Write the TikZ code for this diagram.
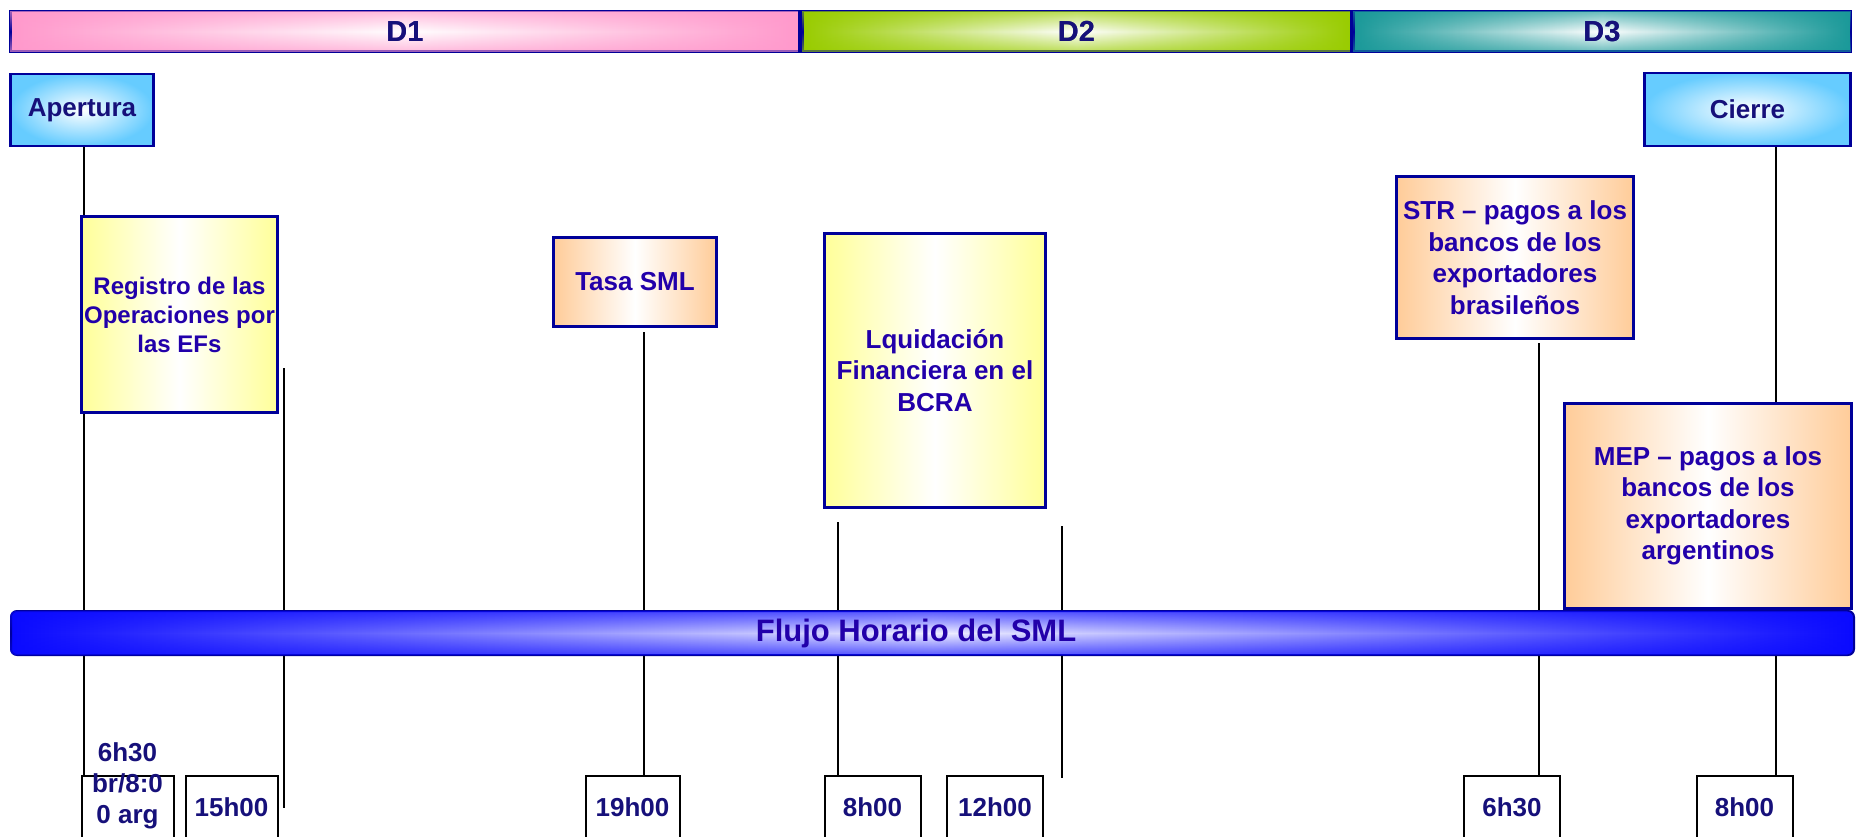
\documentclass[tikz,border=0pt]{standalone}
\usepackage{fontspec}
\setmainfont{Liberation Sans}
\usetikzlibrary{backgrounds,fadings}

\definecolor{diauno}{HTML}{FF99CC}
\definecolor{diados}{HTML}{99CC00}
\definecolor{diatres}{HTML}{1A9999}
\definecolor{celeste}{HTML}{66CCFF}
\definecolor{amarillo}{HTML}{FFFF99}
\definecolor{durazno}{HTML}{FFCC99}
\definecolor{borde}{HTML}{000099}
\definecolor{barra}{HTML}{0A0AFF}
\definecolor{txtazul}{HTML}{2200AA}
\definecolor{txtnavy}{HTML}{16107A}

\tikzfading[name=bordes, top color=transparent!35, bottom color=transparent!35,
  middle color=transparent!100]

\begin{document}
\begin{tikzpicture}[
  x=1pt, y=-1pt,
  diabar/.style={
    draw=borde,
    line width=2.5pt,
    minimum height=40.5pt,
    inner sep=0pt,
    text=txtnavy,
    font=\fontsize{29}{33}\selectfont\bfseries
  },
  hito/.style={
    draw=borde,
    line width=2.7pt,
    inner color=white,
    outer color=celeste,
    inner sep=0pt,
    text=txtnavy,
    font=\fontsize{26}{31}\selectfont\bfseries
  },
  evento/.style={
    draw=borde,
    line width=3.3pt,
    inner sep=0pt,
    align=center,
    text=txtazul,
    font=\fontsize{26}{31.5}\selectfont\bfseries
  },
  amarillobox/.style={
    evento,
    left color=amarillo, right color=amarillo, middle color=white
  },
  duraznobox/.style={
    evento,
    left color=durazno, right color=durazno, middle color=white
  },
  hora/.style={
    draw=black,
    line width=2pt,
    fill=white,
    minimum width=94pt,
    minimum height=62pt,
    inner sep=0pt,
    text=txtnavy,
    font=\fontsize{26}{31}\selectfont\bfseries
  },
  horatxt/.style={
    inner sep=0pt,
    align=center,
    text=txtnavy,
    font=\fontsize{26}{31}\selectfont\bfseries
  },
  linea/.style={draw=black, line width=2pt},
  brillo/.style={path fading=bordes}
]
\useasboundingbox (0,0) rectangle (1856,837);

% dias
\node[diabar, minimum width=789pt, left color=diauno, right color=diauno, middle color=white]
  (d1) at (405,31.5) {D1};
\node[diabar, minimum width=548.5pt, left color=diados, right color=diados, middle color=white]
  (d2) at (1076.5,31.5) {D2};
\node[diabar, minimum width=497.5pt, left color=diatres, right color=diatres, middle color=white]
  (d3) at (1602,31.5) {D3};
\fill[diauno, brillo] ([shift={(1.3,1.3)}]d1.north west) rectangle ([shift={(-1.3,-1.3)}]d1.south east);
\fill[diados, brillo] ([shift={(1.3,1.3)}]d2.north west) rectangle ([shift={(-1.3,-1.3)}]d2.south east);
\fill[diatres, brillo] ([shift={(1.3,1.3)}]d3.north west) rectangle ([shift={(-1.3,-1.3)}]d3.south east);
\node[diabar, draw=none, fill=none] at (d1) {D1};
\node[diabar, draw=none, fill=none] at (d2) {D2};
\node[diabar, draw=none, fill=none] at (d3) {D3};

% apertura y cierre
\node[hito, minimum width=143pt, minimum height=72pt] (apertura) at (82,110) {Apertura};
\node[hito, minimum width=206.5pt, minimum height=73pt] (cierre) at (1747.5,109.5) {Cierre};

% eventos
\node[amarillobox, minimum width=195.7pt, minimum height=195.7pt,
  font=\fontsize{24}{29}\selectfont\bfseries]
  (registro) at (179.5,314.5) {Registro de las\\Operaciones por\\las EFs};
\node[duraznobox, minimum width=162.7pt, minimum height=88.7pt] (tasa) at (635,282) {Tasa SML};
\node[amarillobox, minimum width=220.7pt, minimum height=273.7pt]
  (liquidacion) at (935,370.5) {Lquidación\\Financiera en el\\BCRA};
\node[duraznobox, minimum width=236.7pt, minimum height=161.7pt]
  (str) at (1515,257.5) {STR -- pagos a los\\bancos de los\\exportadores\\brasileños};
\node[duraznobox, minimum width=286.7pt, minimum height=204.7pt]
  (mep) at (1708,506) {MEP -- pagos a los\\bancos de los\\exportadores\\argentinos};

% flujo horario
\node[draw=borde, line width=2pt, rounded corners=6pt, minimum width=1843pt, minimum height=44pt,
  left color=barra, right color=barra, middle color=blue!6, inner sep=0pt]
  (flujo) at (932.5,633) {};
\fill[barra, brillo, rounded corners=5pt]
  ([shift={(1,1)}]flujo.north west) rectangle ([shift={(-1,-1)}]flujo.south east);
\node[text=txtazul, font=\fontsize{31}{36}\selectfont\bfseries, inner sep=0pt]
  (flujotxt) at (916,633) {Flujo Horario del SML};

% horarios
\node[hora, minimum width=92pt] (t1) at (127.5,807) {};
\node[horatxt, yshift=21pt] (t1txt) at (t1.center) {6h30\\br/8:0\\0 arg};
\node[hora, minimum width=92pt] (t2) at (231.5,807) {15h00};
\node[hora] (t3) at (632.5,807) {19h00};
\node[hora, minimum width=96pt] (t4) at (872.5,807) {8h00};
\node[hora, minimum width=96pt] (t5) at (995,807) {12h00};
\node[hora, minimum width=96pt] (t6) at (1512,807) {6h30};
\node[hora, minimum width=96pt] (t7) at (1744.5,807) {8h00};

% lineas de tiempo
\coordinate (l1a) at (84,147);
\coordinate (l2a) at (284,368);
\coordinate (l2b) at (284,808);
\coordinate (l3a) at (644,332);
\coordinate (l4a) at (838,522);
\coordinate (l4b) at (838,809);
\coordinate (l5a) at (1062,526);
\coordinate (l5b) at (1062,778);
\coordinate (l6a) at (1539,343);
\coordinate (l7a) at (1776,147);

\begin{scope}[on background layer]
  \fill[white] (0,0) rectangle (1856,837);
  \draw[linea] (l1a) -- (t1.north -| l1a);
  \draw[linea] (l2a) -- (l2b);
  \draw[linea] (l3a) -- (t3.north -| l3a);
  \draw[linea] (l4a) -- (l4b);
  \draw[linea] (l5a) -- (l5b);
  \draw[linea] (l6a) -- (t6.north -| l6a);
  \draw[linea] (l7a) -- (t7.north -| l7a);
\end{scope}
\end{tikzpicture}
\end{document}
